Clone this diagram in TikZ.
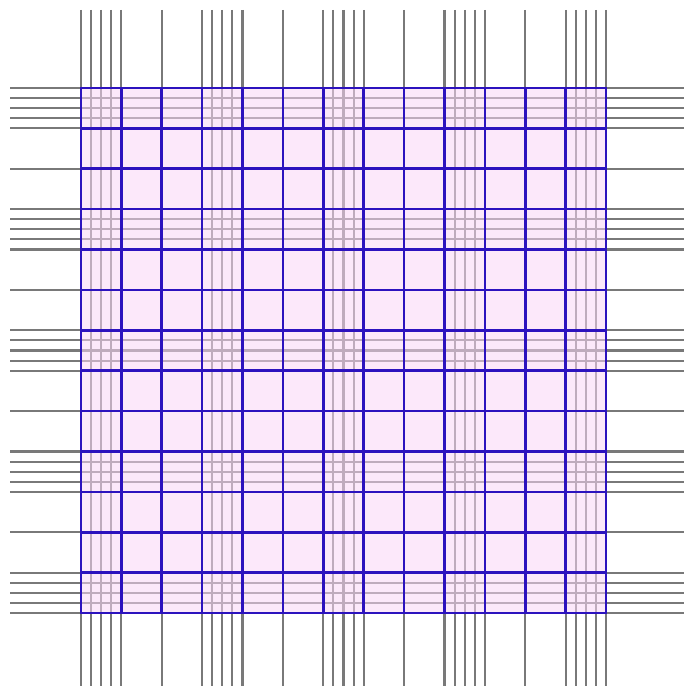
\documentclass[tikz,border=0pt]{standalone}
\usepackage{xcolor}
\definecolor{sheetpink}{RGB}{250,213,246}
\definecolor{ruleblue}{RGB}{44,18,190}

\begin{document}
\begin{tikzpicture}[x=0.02cm,y=-0.02cm]
\useasboundingbox (0,0) rectangle (684,686);
% gray lines running past the sheet
\foreach \k in {0,1,2,3,4,8,12,13,14,15,16,20,24,25,26,27,28,32,36,37,38,39,40,44,48,49,50,51,52}{
  \draw[gray!95!black,line width=1.2pt] ({81+10.096*\k},10) -- ({81+10.096*\k},686);
  \draw[gray!95!black,line width=1.2pt] (10,{88+10.096*\k}) -- (684,{88+10.096*\k});
}
\fill[sheetpink,opacity=0.55] (81,88) rectangle (606,613);
% blue lines on the sheet
\foreach \k in {0,4,...,52}{
  \draw[ruleblue,line width=1.5pt,line cap=rect] ({81+10.096*\k},88) -- ({81+10.096*\k},613);
  \draw[ruleblue,line width=1.5pt,line cap=rect] (81,{88+10.096*\k}) -- (606,{88+10.096*\k});
}
\end{tikzpicture}
\end{document}
